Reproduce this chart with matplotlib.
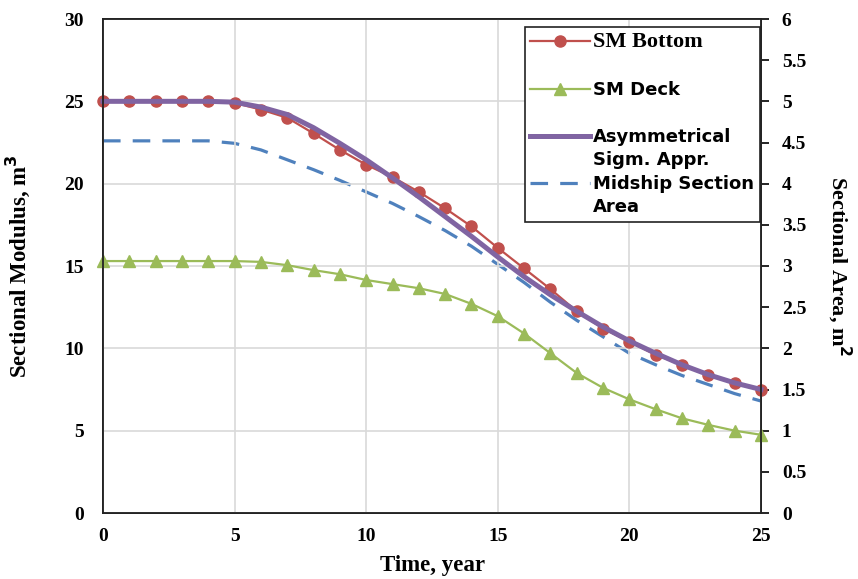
import numpy as np
import matplotlib
matplotlib.use('Agg')
import matplotlib.pyplot as plt
from matplotlib.lines import Line2D

plt.rcParams['font.family'] = ['Liberation Serif', 'DejaVu Serif']
plt.rcParams['font.weight'] = 'bold'

# data
years = np.arange(0, 26)
sm_bottom = [25.05, 25.05, 25.05, 25.05, 25.05, 24.9, 24.5, 24.0, 23.05, 22.05,
             21.15, 20.4, 19.5, 18.5, 17.4, 16.1, 14.85, 13.6, 12.25, 11.2,
             10.4, 9.6, 9.0, 8.4, 7.9, 7.5]
sm_deck = [15.3, 15.3, 15.3, 15.3, 15.3, 15.3, 15.25, 15.05, 14.75, 14.5,
           14.15, 13.9, 13.65, 13.3, 12.7, 11.95, 10.9, 9.7, 8.5, 7.6,
           6.9, 6.3, 5.75, 5.35, 5.0, 4.75]
sigm_appr = [25.0, 25.0, 25.0, 25.0, 25.0, 24.95, 24.65, 24.2, 23.4, 22.45,
             21.45, 20.35, 19.2, 18.0, 16.8, 15.55, 14.35, 13.25, 12.25, 11.3,
             10.45, 9.7, 9.0, 8.4, 7.9, 7.5]
midship_area = [4.52, 4.52, 4.52, 4.52, 4.52, 4.49, 4.41, 4.29, 4.17, 4.04,
                3.9, 3.76, 3.6, 3.43, 3.24, 3.02, 2.8, 2.56, 2.34, 2.14,
                1.94, 1.8, 1.67, 1.56, 1.45, 1.36]

red = '#C0504D'
green = '#9BBB59'
purple = '#8064A2'
blue = '#4F81BD'

fig = plt.figure(figsize=(8.58, 5.79), dpi=100)
ax = fig.add_axes([103/858, 1 - 513/579, 658/858, 494/579])
ax2 = ax.twinx()
ax.set_zorder(ax2.get_zorder() + 1)
ax.patch.set_visible(False)

ax2.plot(years, midship_area, color=blue, lw=2.3, dashes=(5.5, 3.8))
ax.plot(years, sm_bottom, color=red, lw=1.6, marker='o', ms=8, clip_on=False)
ax.plot(years, sm_deck, color=green, lw=1.6, marker='^', ms=8.5, clip_on=False)
ax.plot(years, sigm_appr, color=purple, lw=3.6, clip_on=False)

ax.set_xlim(0, 25)
ax.set_ylim(0, 30)
ax2.set_ylim(0, 6)
ax.set_xticks(np.arange(0, 26, 5))
ax.set_yticks(np.arange(0, 31, 5))
ax2.set_yticks(np.arange(0, 6.01, 0.5))
ax2.set_yticklabels(['0', '0.5', '1', '1.5', '2', '2.5', '3', '3.5', '4', '4.5', '5', '5.5', '6'])

ax.grid(True, color='#d9d9d9', lw=1.2)
ax.set_axisbelow(True)
ax.tick_params(axis='x', length=0, pad=11, labelsize=14)
ax.tick_params(axis='y', length=0, pad=14, labelsize=14)
ax2.tick_params(axis='y', direction='out', length=6, width=1.2, pad=9, labelsize=14)

for a in (ax, ax2):
    for s in a.spines.values():
        s.set_color('#222222')
        s.set_linewidth(1.3)

ax.set_xlabel('Time, year', fontsize=16.5, fontweight='bold')
ax.xaxis.set_label_coords(0.5, -0.085)
ax.set_ylabel('Sectional Modulus, m$^3$', fontsize=16.5, fontweight='bold')
ax.yaxis.set_label_coords(-0.108, 0.5)
ax2.set_ylabel('Sectional Area, m$^2$', fontsize=16, fontweight='bold', rotation=270, va='bottom')
ax2.yaxis.set_label_coords(1.098, 0.5)

blank = Line2D([], [], linestyle='none')
handles = [
    Line2D([], [], color=red, lw=1.6, marker='o', ms=8),
    blank,
    Line2D([], [], color=green, lw=1.6, marker='^', ms=8.5),
    blank,
    Line2D([], [], color=purple, lw=3.6),
    blank,
    Line2D([], [], color=blue, lw=2.3, dashes=(5.5, 3.8)),
    blank,
]
labels = ['SM Bottom', ' ', 'SM Deck', ' ', 'Asymmetrical', 'Sigm. Appr.', 'Midship Section', 'Area']
leg = ax.legend(handles, labels, loc='upper right', bbox_to_anchor=(0.998, 0.984),
                borderaxespad=0, fancybox=False, edgecolor='#222222', framealpha=1,
                prop={'family': 'DejaVu Sans', 'weight': 'bold', 'size': 13},
                handlelength=3.3, handletextpad=0.2, labelspacing=0.3, borderpad=0.3)
leg.get_frame().set_linewidth(1.2)
leg.get_texts()[0].set_fontfamily('Liberation Serif')
leg.get_texts()[0].set_fontsize(16)

fig.savefig('out.png', dpi=100)
